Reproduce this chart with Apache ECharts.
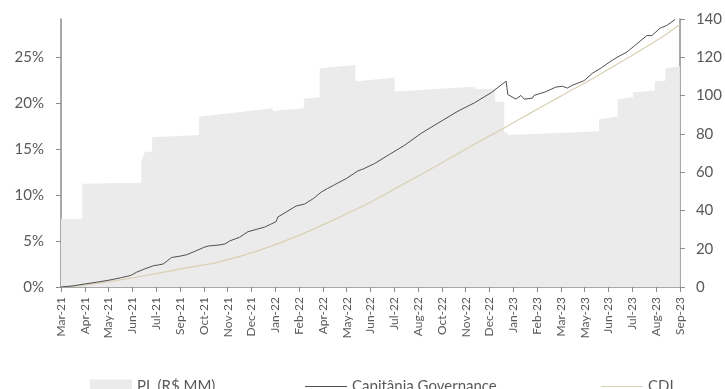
<!DOCTYPE html>
<html>
<head>
<meta charset="utf-8">
<script src="https://cdn.jsdelivr.net/npm/echarts@6/dist/echarts.min.js"></script>
<style>
  html, body { margin: 0; padding: 0; background: #ffffff; }
  #chart { width: 725px; height: 389px; }
</style>
</head>
<body>
<div id="chart"></div>
<script>
// Month labels, one per tick step along the x axis
const tickLabels = ['Mar-21','Apr-21','May-21','Jun-21','Jul-21','Sep-21','Oct-21','Nov-21','Dec-21',
  'Jan-22','Feb-22','Apr-22','May-22','Jun-22','Jul-22','Aug-22','Oct-22','Nov-22','Dec-22',
  'Jan-23','Feb-23','Mar-23','May-23','Jun-23','Jul-23','Aug-23','Sep-23'];

// Fund net assets, R$ MM (right axis) — [position in tick steps, value]
const plSeries = [[0,35.5],[0.89,35.5],[0.89,54.0],[3.37,54.4],[3.37,65.5],[3.44,65.8],[3.53,70.7],[3.83,70.7],
  [3.83,78.2],[5.80,79.4],[5.80,89.0],[8.90,93.4],[8.90,92.0],[10.20,93.4],[10.20,98.3],[10.87,99.1],
  [10.87,114.3],[12.37,116.0],[12.37,107.3],[14.02,109.4],[14.02,102.1],[17.40,104.6],[17.40,103.3],
  [18.24,103.5],[18.24,96.8],[18.62,96.8],[18.62,81.2],[18.83,79.4],[22.60,81.4],[22.60,87.6],
  [23.38,89.0],[23.38,98.1],[24.03,99.1],[24.03,101.6],[24.95,102.6],[24.95,107.5],[25.39,107.7],
  [25.39,114.3],[26,115.3]];

// Cumulative return of Capitânia Governance, % (left axis)
const governanceSeries = [[0,0],[0.5,0.12],[1.01,0.33],[1.5,0.52],[2.05,0.76],[2.5,1.0],[2.89,1.23],[3.0,1.35],
  [3.17,1.6],[3.5,1.95],[3.87,2.3],[4.1,2.4],[4.29,2.5],[4.45,2.8],[4.64,3.2],[5.0,3.35],[5.27,3.5],
  [5.6,3.85],[6.0,4.3],[6.18,4.45],[6.39,4.5],[6.6,4.55],[6.88,4.67],[7.09,5.0],[7.16,4.85],[7.5,5.4],
  [7.85,6.0],[8.2,6.25],[8.55,6.5],[8.8,6.8],[9.04,7.1],[9.11,7.6],[9.5,8.2],[9.88,8.8],[10.23,9.0],
  [10.6,9.6],[10.93,10.3],[11.2,10.7],[11.49,11.1],[12.0,11.8],[12.47,12.6],[12.68,12.8],[13.17,13.4],
  [13.8,14.4],[14.44,15.4],[15.14,16.7],[15.97,18.0],[16.68,19.1],[17.37,20.0],[18.07,21.1],[18.7,22.35],
  [18.77,20.9],[18.83,20.7],[19.11,20.4],[19.32,20.8],[19.46,20.4],[19.8,20.5],[19.87,20.8],[20.36,21.2],
  [20.78,21.7],[21.06,21.8],[21.27,21.6],[21.48,21.9],[21.97,22.4],[22.32,23.2],[22.7,23.8],[23.06,24.45],
  [23.4,25.0],[23.77,25.5],[24.19,26.4],[24.61,27.3],[24.82,27.3],[25.17,28.1],[25.45,28.4],[25.8,29.05]];

// Cumulative CDI, % (left axis)
const cdiSeries = [[0,0],[1,0.22],[2,0.58],[3,1.0],[4,1.45],[5,1.95],[6,2.4],[6.58,2.68],[7,2.98],[8,3.7],
  [9,4.6],[10,5.6],[11,6.75],[12,7.95],[13,9.2],[14.44,11.25],[15.84,13.24],[17.23,15.3],[18.63,17.3],
  [19.66,18.8],[20.98,20.7],[22.38,22.7],[23.77,24.8],[25.17,27.0],[26.0,28.5]];

const leftTicks = [0, 5, 10, 15, 20, 25];

const FONT = 'Lato';
const TEXT = '#595959';
const AXIS = '#8c8c8c';
const PL_COLOR = '#ebebeb';
const GOV_COLOR = '#4f4f4f';
const CDI_COLOR = '#d9d0b4';

const chart = echarts.init(document.getElementById('chart'), null, { renderer: 'canvas' });

const legendText = { fontFamily: FONT, fontSize: 15, color: TEXT };

chart.setOption({
  animation: false,
  grid: { left: 61, right: 43, top: 19, bottom: 102 },
  legend: [
    {
      left: 85, top: 374, itemWidth: 42, itemHeight: 14, textStyle: legendText,
      data: [{ name: 'PL (R$ MM)', icon: 'rect', itemStyle: { color: PL_COLOR } }]
    },
    {
      left: 300, top: 374, itemWidth: 42, itemHeight: 1, textStyle: legendText,
      data: [{ name: 'Capitânia Governance', icon: 'rect', itemStyle: { color: GOV_COLOR } }]
    },
    {
      left: 596, top: 374, itemWidth: 42, itemHeight: 1.2, textStyle: legendText,
      data: [{ name: 'CDI', icon: 'rect', itemStyle: { color: CDI_COLOR } }]
    }
  ],
  xAxis: {
    type: 'value', min: 0, max: 26, interval: 1,
    axisLine: { lineStyle: { color: AXIS, width: 1.5 } },
    axisTick: { show: true, length: 5, lineStyle: { color: AXIS } },
    splitLine: { show: false },
    axisLabel: {
      rotate: 90, margin: 10, fontFamily: FONT, fontSize: 12, color: TEXT,
      formatter: v => tickLabels[Math.round(v)] || ''
    }
  },
  yAxis: [
    {
      type: 'value', position: 'left', min: 0, max: 29.1, interval: 5,
      axisLine: { show: true, lineStyle: { color: AXIS, width: 1.5 } },
      axisTick: { show: true, length: 5, customValues: leftTicks, lineStyle: { color: AXIS } },
      splitLine: { show: false },
      axisLabel: {
        margin: 17, fontFamily: FONT, fontSize: 15, color: TEXT,
        customValues: leftTicks, formatter: v => v + '%'
      }
    },
    {
      type: 'value', position: 'right', min: 0, max: 140, interval: 20,
      axisLine: { show: true, lineStyle: { color: AXIS, width: 1.5 } },
      axisTick: { show: true, length: 5, lineStyle: { color: AXIS } },
      splitLine: { show: false },
      axisLabel: { margin: 16, fontFamily: FONT, fontSize: 15, color: TEXT }
    }
  ],
  series: [
    {
      name: 'PL (R$ MM)', type: 'line', yAxisIndex: 1, data: plSeries,
      symbol: 'none', lineStyle: { width: 0 },
      itemStyle: { color: PL_COLOR },
      areaStyle: { color: PL_COLOR, opacity: 1 }, z: 1
    },
    {
      name: 'CDI', type: 'line', yAxisIndex: 0, data: cdiSeries,
      symbol: 'none', smooth: 0.3,
      itemStyle: { color: CDI_COLOR },
      lineStyle: { color: CDI_COLOR, width: 1.2 }, z: 3
    },
    {
      name: 'Capitânia Governance', type: 'line', yAxisIndex: 0, data: governanceSeries,
      symbol: 'none',
      itemStyle: { color: GOV_COLOR },
      lineStyle: { color: GOV_COLOR, width: 1 }, z: 4
    }
  ]
});
</script>
</body>
</html>
